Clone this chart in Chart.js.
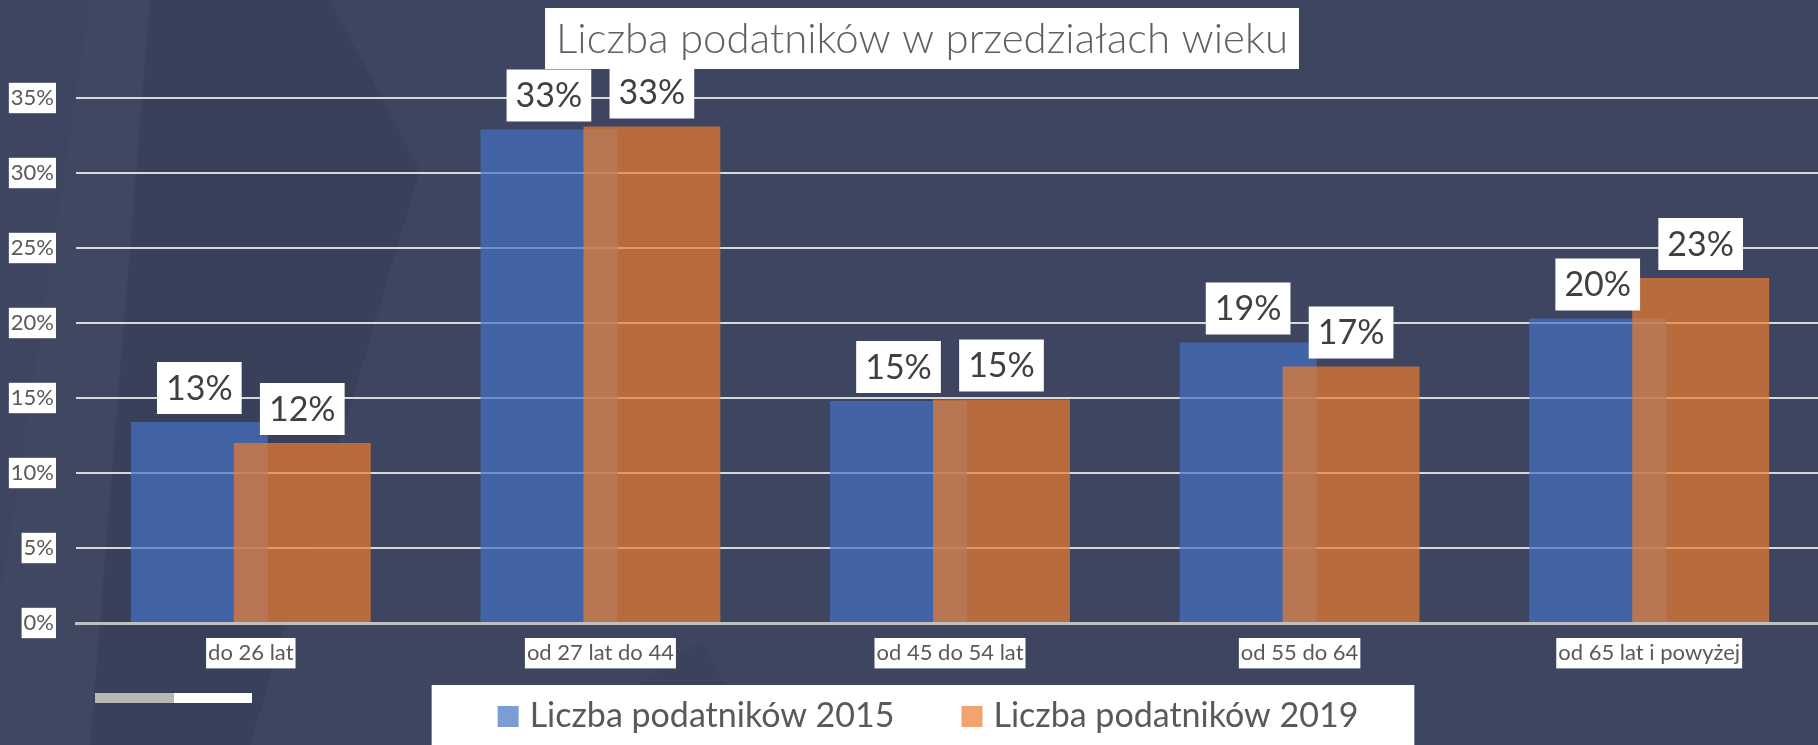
<!DOCTYPE html>
<html><head><meta charset="utf-8">
<script src="https://cdn.jsdelivr.net/npm/chart.js@4.4.1/dist/chart.umd.min.js"></script>
<style>html,body{margin:0;padding:0;background:#3d4560;overflow:hidden;width:1818px;height:745px}
#wrap{position:relative;width:1818px;height:745px;overflow:hidden}</style>
</head><body><div id="wrap"><canvas id="c" width="1824" height="745"></canvas></div>
<script>
const categories = ['do 26 lat', 'od 27 lat do 44', 'od 45 do 54 lat', 'od 55 do 64', 'od 65 lat i powyżej'];
const series2015 = [13.4, 32.9, 14.8, 18.7, 20.3];
const series2019 = [12.0, 33.1, 14.9, 17.1, 23.0];
const seriesNames = ['Liczba podatników 2015', 'Liczba podatników 2019'];
const yTicks = [0, 5, 10, 15, 20, 25, 30, 35];
const chartTitle = 'Liczba podatników w przedziałach wieku';

const FONT = 'Lato';
const TEXT_GREY = '#595959';
const SERIES_COLORS = ['rgba(68,114,196,0.7)', 'rgba(237,125,49,0.7)'];
const LEGEND_COLORS = ['#7c9cd5', '#f2a36e'];

function drawLabels(chart) {
  const ctx = chart.ctx;
  ctx.save();
  ctx.font = '400 34px ' + FONT;
  ctx.textAlign = 'center';
  ctx.textBaseline = 'middle';
  chart.data.datasets.forEach((ds, di) => {
    const meta = chart.getDatasetMeta(di);
    meta.data.forEach((bar, i) => {
      const txt = Math.round(ds.data[i]) + '%';
      const w = ctx.measureText(txt).width + 18;
      const h = 52;
      const bottom = bar.y - 8;
      ctx.fillStyle = '#ffffff';
      ctx.fillRect(bar.x - w / 2, bottom - h, w, h);
      ctx.fillStyle = '#404040';
      ctx.fillText(txt, bar.x, bottom - h / 2 + 1);
    });
  });
  ctx.restore();
}

const decor = {
  id: 'decor',
  beforeDraw(chart) {
    const ctx = chart.ctx;
    ctx.save();
    ctx.fillStyle = '#3d4560';
    ctx.fillRect(0, 0, chart.width, chart.height);
    // faint background facets
    ctx.fillStyle = 'rgba(0,0,0,0.06)';
    ctx.beginPath();
    ctx.moveTo(150, 0); ctx.lineTo(330, 0); ctx.lineTo(420, 170); ctx.lineTo(250, 745); ctx.lineTo(90, 745);
    ctx.closePath(); ctx.fill();
    ctx.fillStyle = 'rgba(255,255,255,0.012)';
    ctx.beginPath();
    ctx.moveTo(90, 0); ctx.lineTo(150, 0); ctx.lineTo(90, 745); ctx.lineTo(0, 745); ctx.lineTo(0, 600);
    ctx.closePath(); ctx.fill();
    ctx.fillStyle = 'rgba(0,0,0,0.04)';
    ctx.beginPath();
    ctx.moveTo(560, 745); ctx.lineTo(700, 640); ctx.lineTo(760, 745);
    ctx.closePath(); ctx.fill();
    ctx.restore();
  },
  beforeDatasetsDraw(chart) {
    // draw the datasets in index order so the 2019 series lies on top of 2015
    const area = chart.chartArea;
    const ctx = chart.ctx;
    const metas = chart.getSortedVisibleDatasetMetas();
    ctx.save();
    ctx.beginPath();
    ctx.rect(area.left, 0, area.right - area.left, area.bottom);
    ctx.clip();
    metas.forEach(m => m.controller.draw());
    ctx.restore();
    drawLabels(chart);
    return false;
  },
  afterDraw(chart) {
    const ctx = chart.ctx;
    ctx.save();
    // title
    ctx.font = '300 42px ' + FONT;
    const tw = ctx.measureText(chartTitle).width;
    const cx = 922;
    ctx.fillStyle = '#ffffff';
    ctx.fillRect(cx - tw / 2 - 11, 8, tw + 22, 61);
    ctx.fillStyle = '#606060';
    ctx.textAlign = 'center';
    ctx.textBaseline = 'alphabetic';
    ctx.fillText(chartTitle, cx, 53);
    // legend
    ctx.font = '400 34px ' + FONT;
    const names = chart.data.datasets.map(d => d.label);
    const widths = names.map(n => ctx.measureText(n).width);
    const sq = 21, g1 = 11, g2 = 67;
    const W = sq + g1 + widths[0] + g2 + sq + g1 + widths[1];
    let x = 928 - W / 2;
    ctx.fillStyle = '#ffffff';
    ctx.fillRect(x - 66, 685, W + 66 + 56, 60);
    ctx.textAlign = 'left';
    names.forEach((n, i) => {
      ctx.fillStyle = LEGEND_COLORS[i];
      ctx.fillRect(x, 706, sq, sq);
      x += sq + g1;
      ctx.fillStyle = TEXT_GREY;
      ctx.fillText(n, x, 727);
      x += widths[i] + g2;
    });
    // small scroll-like bar
    ctx.fillStyle = '#b7b7b7';
    ctx.fillRect(95, 693, 79, 10);
    ctx.fillStyle = '#ffffff';
    ctx.fillRect(174, 693, 78, 10);
    ctx.restore();
  }
};

new Chart(document.getElementById('c'), {
  type: 'bar',
  data: {
    labels: categories,
    datasets: [
      { label: seriesNames[0], data: series2015, backgroundColor: SERIES_COLORS[0] },
      { label: seriesNames[1], data: series2019, backgroundColor: SERIES_COLORS[1] }
    ]
  },
  options: {
    responsive: false,
    devicePixelRatio: 1,
    animation: false,
    categoryPercentage: 0.589,
    barPercentage: 1.33,
    layout: { padding: { top: 98, right: 0, bottom: 0, left: 0 } },
    plugins: { legend: { display: false }, title: { display: false }, tooltip: { enabled: false } },
    scales: {
      x: {
        grid: { display: false, drawTicks: false },
        border: { display: true, color: '#bfbfbf', width: 3 },
        ticks: {
          font: { family: FONT, size: 22 }, color: TEXT_GREY, padding: 17, maxRotation: 0,
          showLabelBackdrop: true, backdropColor: '#ffffff', backdropPadding: { x: 2, y: 2 }
        },
        afterFit(s) { s.height = 122; }
      },
      y: {
        min: 0, max: 35,
        afterBuildTicks(s) { s.ticks = yTicks.map(v => ({ value: v })); },
        grid: {
          drawTicks: false,
          color: c => (c.tick && c.tick.value === 0) ? 'rgba(0,0,0,0)' : '#d9d9d9',
          lineWidth: 2
        },
        border: { display: false },
        ticks: {
          callback: v => v + '%',
          font: { family: FONT, size: 22 }, color: TEXT_GREY, padding: 22,
          showLabelBackdrop: true, backdropColor: '#ffffff', backdropPadding: { x: 2, y: 2 }
        },
        afterFit(s) { s.width = 76; }
      }
    }
  },
  plugins: [decor]
});
</script>
</body></html>
